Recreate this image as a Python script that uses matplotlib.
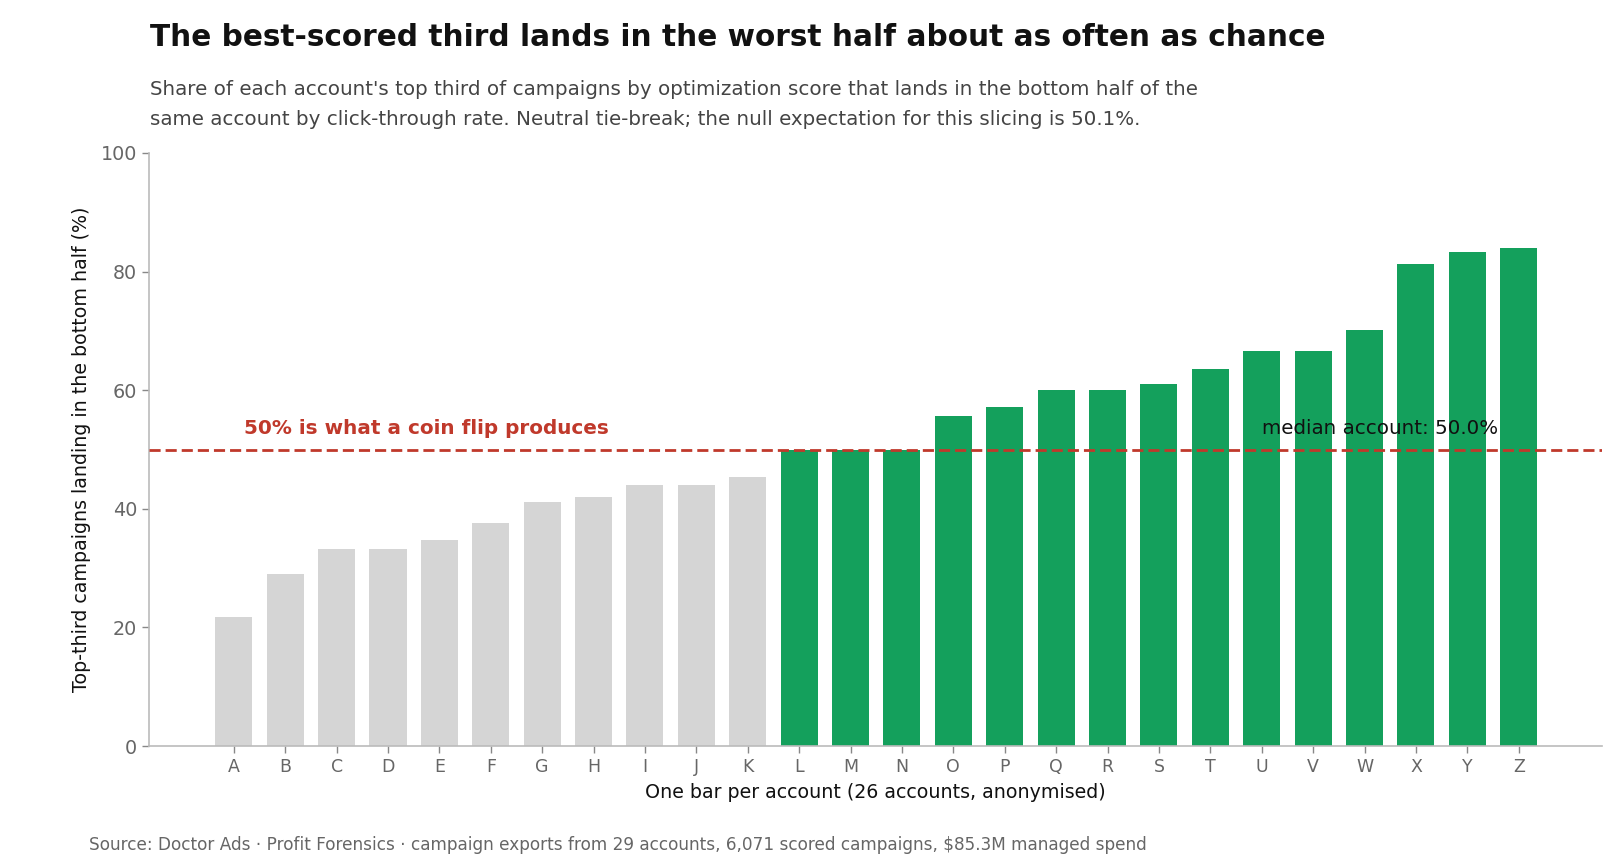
import numpy as np
import matplotlib
matplotlib.use("Agg")
import matplotlib.pyplot as plt

# data
accounts = list("ABCDEFGHIJKLMNOPQRSTUVWXYZ")
share_pct = [21.8, 29.0, 33.3, 33.3, 34.8, 37.6, 41.2, 42.0, 44.0, 44.0, 45.4,
             50.0, 50.0, 50.0, 55.6, 57.1, 60.0, 60.1, 61.0, 63.5, 66.6, 66.6,
             70.2, 81.2, 83.3, 84.0]
null_line = 50.0
median_val = 50.0

GREEN = "#14a05c"
GREY = "#d5d5d5"
RED = "#c0392b"

W, H = 1624, 868
fig = plt.figure(figsize=(W / 100, H / 100), dpi=100)
ax = fig.add_axes([149 / W, 1 - 746 / H, (1602 - 149) / W, (746 - 153) / H])

x = np.arange(len(accounts))
colors = [GREEN if v >= null_line else GREY for v in share_pct]
ax.bar(x, share_pct, width=0.72, color=colors, zorder=2)

ax.axhline(null_line, color=RED, linestyle=(0, (4, 1.8)), linewidth=2, zorder=3)
ax.text(0.2, null_line + 2, "50% is what a coin flip produces", color=RED,
        fontsize=14.4, fontweight="bold", ha="left", va="bottom")
ax.text(20, null_line + 2, "median account: %.1f%%" % median_val, color="#111111",
        fontsize=14.3, ha="left", va="bottom")

ax.set_xlim(-1.65, 26.62)
ax.set_ylim(0, 100)
ax.set_xticks(x)
ax.set_xticklabels(accounts)
ax.set_yticks([0, 20, 40, 60, 80, 100])

for s in ["top", "right"]:
    ax.spines[s].set_visible(False)
for s in ["left", "bottom"]:
    ax.spines[s].set_color("#bbbbbb")
    ax.spines[s].set_linewidth(1.2)
ax.tick_params(axis="both", colors="#888888", length=5, width=1)
ax.tick_params(axis="x", labelcolor="#666666", labelsize=12.5)
ax.tick_params(axis="y", labelcolor="#666666", labelsize=13.8)

ax.set_xlabel("One bar per account (26 accounts, anonymised)", fontsize=13.7,
              color="#111111", labelpad=5)
ax.set_ylabel("Top-third campaigns landing in the bottom half (%)", fontsize=13.7,
              color="#111111", labelpad=7)

fig.text(150 / W, 1 - 37 / H,
         "The best-scored third lands in the worst half about as often as chance",
         fontsize=21.35, fontweight="bold", color="#111111", ha="left", va="center")
fig.text(150 / W, 1 - 89.5 / H,
         "Share of each account's top third of campaigns by optimization score that lands in the bottom half of the",
         fontsize=14.3, color="#444444", ha="left", va="center")
fig.text(150 / W, 1 - 119.5 / H,
         "same account by click-through rate. Neutral tie-break; the null expectation for this slicing is 50.1%.",
         fontsize=14.3, color="#444444", ha="left", va="center")
fig.text(89 / W, 1 - 845 / H,
         "Source: Doctor Ads \u00b7 Profit Forensics \u00b7 campaign exports from 29 accounts, 6,071 scored campaigns, $85.3M managed spend",
         fontsize=12.2, color="#666666", ha="left", va="center")

fig.savefig("out.png", dpi=100)
